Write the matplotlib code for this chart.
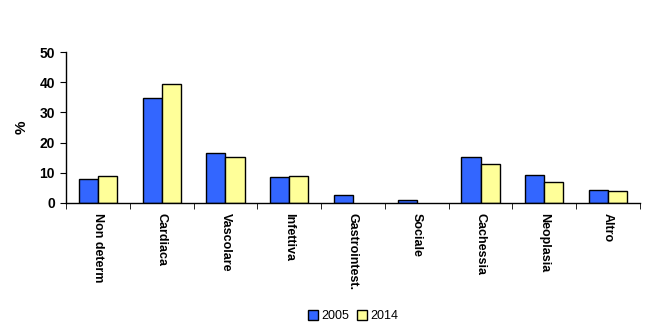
import matplotlib
matplotlib.use("Agg")
import matplotlib.pyplot as plt
import numpy as np

categories = ["Non determ", "Cardiaca", "Vascolare", "Infettiva", "Gastrointest.",
              "Sociale", "Cachessia", "Neoplasia", "Altro"]
v2005 = [7.8, 34.7, 16.5, 8.6, 2.6, 1.0, 15.1, 9.2, 4.2]
v2014 = [8.9, 39.4, 15.2, 8.9, np.nan, np.nan, 12.8, 6.9, 3.9]
yticks = [0, 10, 20, 30, 40, 50]

plt.rcParams['font.family'] = ['Liberation Sans', 'DejaVu Sans']
W, H = 658, 335
fig = plt.figure(figsize=(W/100, H/100), dpi=100)
ax = fig.add_axes([66/W, 1-203/H, (640-66)/W, (203-52)/H])

x = np.arange(len(categories))
w = 0.3
ax.bar(x - w/2, v2005, w, color="#3366ff", edgecolor="black", linewidth=1, label="2005")
ax.bar(x + w/2, v2014, w, color="#ffff99", edgecolor="black", linewidth=1, label="2014")

ax.set_xlim(-0.5, len(categories) - 0.5)
ax.set_ylim(0, 50)
ax.set_yticks(yticks)
ax.set_yticklabels([str(t) for t in yticks], fontsize=10, fontweight="bold")
ax.set_xticks(x)
ax.set_xticklabels(categories, rotation=-90, fontsize=9, fontweight="bold", va="top", ha="center")
ax.set_xticks(np.arange(-0.5, len(categories)), minor=True)
ax.tick_params(axis="x", which="major", length=0, pad=7)
ax.tick_params(axis="x", which="minor", length=4, direction="out")
ax.tick_params(axis="y", length=4, direction="out", pad=4)
for s in ["top", "right"]:
    ax.spines[s].set_visible(False)
ax.spines["left"].set_linewidth(1)
ax.spines["bottom"].set_linewidth(1)
ax.set_ylabel("%", fontsize=11, fontweight="bold", labelpad=8)

fig.legend(loc="center", bbox_to_anchor=(353/W, 1-316/H), ncol=2, frameon=False,
           fontsize=9, handlelength=0.8, handleheight=0.8, handletextpad=0.3,
           columnspacing=0.6)

fig.savefig("out.png", dpi=100)
